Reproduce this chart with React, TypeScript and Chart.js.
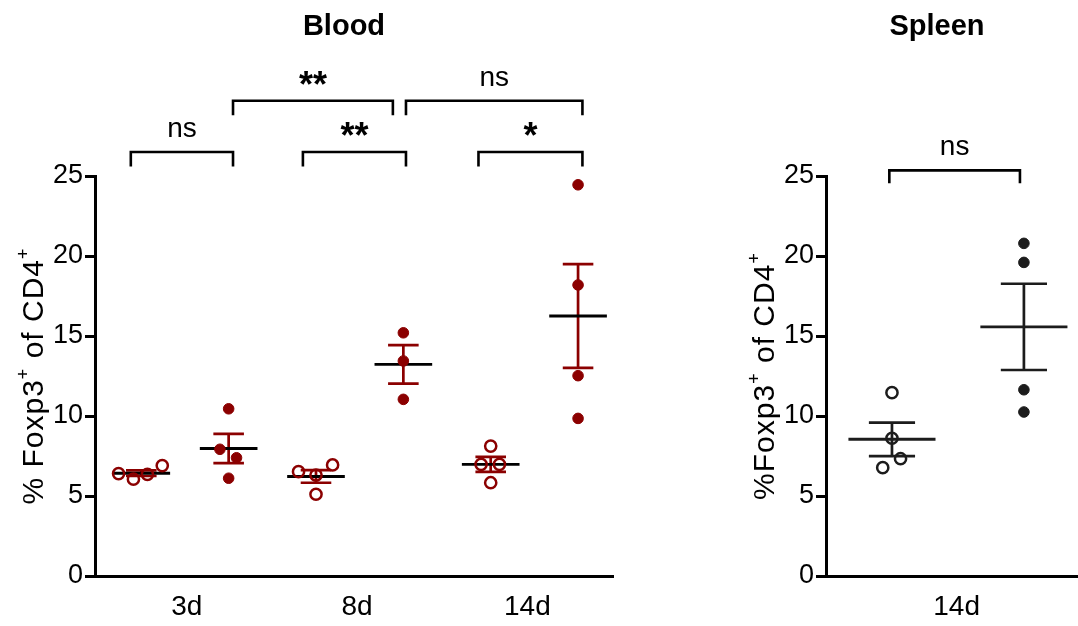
import React, { useEffect, useRef } from "react";
import { Chart, registerables } from "chart.js";

Chart.register(...registerables);

const FONT = '"Liberation Sans", Arial, Helvetica, sans-serif';
const RED = "#8B0000";
const DARK = "#1c1c1c";

// ---------- data ----------
const bloodTimepoints = ["3d", "8d", "14d"];
const spleenTimepoints = ["14d"];
const yTickValues = [0, 5, 10, 15, 20, 25];

// Blood, % Foxp3+ of CD4+ (open = first group of each pair, filled = second)
const blood3dOpen = [6.4, 6.05, 6.35, 6.9];
const blood3dFilled = [10.45, 7.92, 7.39, 6.11];
const blood8dOpen = [6.52, 6.31, 6.94, 5.11];
const blood8dFilled = [15.2, 13.44, 11.04];
const blood14dOpen = [8.12, 6.98, 6.98, 5.83];
const blood14dFilled = [24.45, 18.19, 12.52, 9.85];

// Spleen, % Foxp3+ of CD4+ at 14d
const spleen14dOpen = [11.46, 8.61, 7.33, 6.77];
const spleen14dFilled = [20.79, 19.6, 11.64, 10.25];

// horizontal scatter of overlapping points (fraction of group spacing)
const blood3dOpenSpread = [-0.26, -0.09, 0.07, 0.24];
const blood3dFilledSpread = [0, -0.1, 0.09, 0];
const blood8dOpenSpread = [-0.2, 0, 0.19, 0];
const blood8dFilledSpread = [0, 0, 0];
const blood14dOpenSpread = [0, -0.11, 0.1, 0];
const blood14dFilledSpread = [0, 0, 0, 0];
const spleen14dOpenSpread = [0, 0, 0.065, -0.07];
const spleen14dFilledSpread = [0, 0, 0, 0];

// significance labels
const bloodPairLabels = ["ns", "**", "*"];
const bloodAcrossLabels = ["**", "ns"];
const spleenPairLabels = ["ns"];

// ---------- helpers ----------
function mean(a: number[]) {
  return a.reduce((s, v) => s + v, 0) / a.length;
}
function sem(a: number[]) {
  const m = mean(a);
  const v = a.reduce((s, x) => s + (x - m) * (x - m), 0) / (a.length - 1);
  return Math.sqrt(v) / Math.sqrt(a.length);
}

type Group = {
  values: number[];
  spread: number[];
  filled: boolean;
  pointColor: string;
  barColor: string;
  meanColor: string;
};

type Bracket = { x1: number; x2: number; top: number; leg: number; label: string };

type PanelCfg = {
  title: string;
  yTitle: { parts: { t: string; sup: boolean }[]; cx: number };
  titleX: number;
  groups: Group[];
  brackets: Bracket[];
  xMin: number;
  xMax: number;
  xLabels: string[];
  xLabelPos: number[];
  yAxisWidth: number;
  padRight: number;
};

const bloodGroups: Group[] = [
  { values: blood3dOpen, spread: blood3dOpenSpread, filled: false, pointColor: RED, barColor: RED, meanColor: "#000" },
  { values: blood3dFilled, spread: blood3dFilledSpread, filled: true, pointColor: RED, barColor: RED, meanColor: "#000" },
  { values: blood8dOpen, spread: blood8dOpenSpread, filled: false, pointColor: RED, barColor: RED, meanColor: "#000" },
  { values: blood8dFilled, spread: blood8dFilledSpread, filled: true, pointColor: RED, barColor: RED, meanColor: "#000" },
  { values: blood14dOpen, spread: blood14dOpenSpread, filled: false, pointColor: RED, barColor: RED, meanColor: "#000" },
  { values: blood14dFilled, spread: blood14dFilledSpread, filled: true, pointColor: RED, barColor: RED, meanColor: "#000" },
];

const spleenGroups: Group[] = [
  { values: spleen14dOpen, spread: spleen14dOpenSpread, filled: false, pointColor: DARK, barColor: DARK, meanColor: DARK },
  { values: spleen14dFilled, spread: spleen14dFilledSpread, filled: true, pointColor: DARK, barColor: DARK, meanColor: DARK },
];

const bloodCfg: PanelCfg = {
  title: "Blood",
  titleX: 344,
  yTitle: {
    parts: [
      { t: "% Foxp3", sup: false },
      { t: "+", sup: true },
      { t: " of CD4", sup: false },
      { t: "+", sup: true },
    ],
    cx: 32,
  },
  groups: bloodGroups,
  brackets: [
    { x1: -0.12, x2: 1.05, top: 26.5, leg: 25.6, label: bloodPairLabels[0] },
    { x1: 1.85, x2: 3.03, top: 26.5, leg: 25.6, label: bloodPairLabels[1] },
    { x1: 3.86, x2: 5.05, top: 26.5, leg: 25.6, label: bloodPairLabels[2] },
    { x1: 1.05, x2: 2.88, top: 29.7, leg: 28.8, label: bloodAcrossLabels[0] },
    { x1: 3.03, x2: 5.05, top: 29.7, leg: 28.8, label: bloodAcrossLabels[1] },
  ],
  xMin: -0.53,
  xMax: 5.4,
  xLabels: bloodTimepoints,
  xLabelPos: [0.52, 2.47, 4.42],
  yAxisWidth: 95,
  padRight: 37,
};

const spleenCfg: PanelCfg = {
  title: "Spleen",
  titleX: 247,
  yTitle: {
    parts: [
      { t: "%Foxp3", sup: false },
      { t: "+", sup: true },
      { t: " of CD4", sup: false },
      { t: "+", sup: true },
    ],
    cx: 73,
  },
  groups: spleenGroups,
  brackets: [{ x1: -0.02, x2: 0.97, top: 25.35, leg: 24.55, label: spleenPairLabels[0] }],
  xMin: -0.5,
  xMax: 1.41,
  xLabels: spleenTimepoints,
  xLabelPos: [0.49],
  yAxisWidth: 136,
  padRight: 0,
};

function makeChart(canvas: HTMLCanvasElement, cfg: PanelCfg) {
  const datasets = cfg.groups.map((g, gi) => ({
    data: g.values.map((v, i) => ({ x: gi + g.spread[i], y: v })),
    pointRadius: g.filled ? 5.3 : 5.6,
    pointHoverRadius: g.filled ? 5.3 : 5.6,
    pointBorderWidth: g.filled ? 1 : 2.5,
    pointBackgroundColor: g.filled ? g.pointColor : "rgba(0,0,0,0)",
    pointBorderColor: g.pointColor,
    showLine: false,
  }));

  const statsPlugin = {
    id: "stats",
    beforeDatasetsDraw(chart: any) {
      const { ctx } = chart;
      const xs = chart.scales.x;
      const ys = chart.scales.y;
      ctx.save();
      cfg.groups.forEach((g, gi) => {
        const m = mean(g.values);
        const s = sem(g.values);
        const cx = xs.getPixelForValue(gi);
        const mw = xs.getPixelForValue(gi + 0.33) - cx;
        const cw = xs.getPixelForValue(gi + 0.175) - cx;
        const yHi = ys.getPixelForValue(m + s);
        const yLo = ys.getPixelForValue(m - s);
        const yM = ys.getPixelForValue(m);
        ctx.lineCap = "butt";
        ctx.strokeStyle = g.barColor;
        ctx.lineWidth = 2.7;
        ctx.beginPath();
        ctx.moveTo(cx, yHi);
        ctx.lineTo(cx, yLo);
        ctx.moveTo(cx - cw, yHi);
        ctx.lineTo(cx + cw, yHi);
        ctx.moveTo(cx - cw, yLo);
        ctx.lineTo(cx + cw, yLo);
        ctx.stroke();
        ctx.strokeStyle = g.meanColor;
        ctx.lineWidth = 2.9;
        ctx.beginPath();
        ctx.moveTo(cx - mw, yM);
        ctx.lineTo(cx + mw, yM);
        ctx.stroke();
      });
      ctx.restore();
    },
    afterDraw(chart: any) {
      const { ctx } = chart;
      const xs = chart.scales.x;
      const ys = chart.scales.y;
      ctx.save();
      // panel title
      ctx.fillStyle = "#000";
      ctx.font = `bold 29px ${FONT}`;
      ctx.textAlign = "center";
      ctx.textBaseline = "alphabetic";
      ctx.fillText(cfg.title, cfg.titleX, 35);

      // brackets
      ctx.strokeStyle = "#000";
      ctx.lineWidth = 2.6;
      ctx.lineCap = "butt";
      ctx.lineJoin = "miter";
      cfg.brackets.forEach((b) => {
        const x1 = xs.getPixelForValue(b.x1);
        const x2 = xs.getPixelForValue(b.x2);
        const yt = ys.getPixelForValue(b.top);
        const yl = ys.getPixelForValue(b.leg);
        ctx.beginPath();
        ctx.moveTo(x1, yl);
        ctx.lineTo(x1, yt);
        ctx.lineTo(x2, yt);
        ctx.lineTo(x2, yl);
        ctx.stroke();
        ctx.textAlign = "center";
        const isStar = b.label.indexOf("*") >= 0;
        if (isStar) {
          ctx.font = `bold 36px ${FONT}`;
          ctx.fillText(b.label, (x1 + x2) / 2, yt - 4);
        } else {
          ctx.font = `28px ${FONT}`;
          ctx.fillText(b.label, (x1 + x2) / 2, yt - 15);
        }
      });

      // y-axis title, rotated
      const ca = chart.chartArea;
      const cy = (ca.top + ca.bottom) / 2;
      ctx.translate(cfg.yTitle.cx, cy);
      ctx.rotate(-Math.PI / 2);
      const mainF = `30px ${FONT}`;
      const supF = `18px ${FONT}`;
      try {
        (ctx as any).letterSpacing = "1px";
      } catch (e) {}
      let total = 0;
      const widths = cfg.yTitle.parts.map((p) => {
        ctx.font = p.sup ? supF : mainF;
        const w = ctx.measureText(p.t).width;
        total += w;
        return w;
      });
      let x = -total / 2;
      ctx.textAlign = "left";
      cfg.yTitle.parts.forEach((p, i) => {
        ctx.font = p.sup ? supF : mainF;
        ctx.fillText(p.t, x, p.sup ? -3 : 11);
        x += widths[i];
      });
      ctx.restore();
    },
  };

  return new Chart(canvas, {
    type: "scatter",
    data: { datasets },
    plugins: [statsPlugin],
    options: {
      animation: false,
      responsive: false,
      maintainAspectRatio: false,
      events: [],
      layout: { autoPadding: false, padding: { left: 0, right: cfg.padRight, top: 176, bottom: 0 } },
      plugins: { legend: { display: false }, tooltip: { enabled: false }, title: { display: false } },
      scales: {
        x: {
          type: "linear",
          min: cfg.xMin,
          max: cfg.xMax,
          afterFit: (s: any) => {
            s.height = 50;
            s.paddingLeft = 0;
            s.paddingRight = 0;
          },
          afterBuildTicks: (s: any) => {
            s.ticks = cfg.xLabelPos.map((v) => ({ value: v }));
          },
          grid: { display: false, drawTicks: false },
          border: { display: true, color: "#000", width: 3 },
          ticks: {
            color: "#000",
            font: { family: FONT, size: 28 },
            padding: 14,
            maxRotation: 0,
            autoSkip: false,
            callback: (_v: any, i: number) => cfg.xLabels[i],
          },
        },
        y: {
          type: "linear",
          min: 0,
          max: 25,
          afterFit: (s: any) => {
            s.width = cfg.yAxisWidth;
          },
          afterBuildTicks: (s: any) => {
            s.ticks = yTickValues.map((v) => ({ value: v }));
          },
          grid: { display: true, drawOnChartArea: false, drawTicks: true, tickLength: 10, color: "#000", lineWidth: 3 },
          border: { display: true, color: "#000", width: 3 },
          ticks: {
            color: "#000",
            font: { family: FONT, size: 27 },
            padding: 2,
            callback: (v: any) => String(v),
          },
        },
      },
    },
  });
}

function Panel({ cfg, left, width }: { cfg: PanelCfg; left: number; width: number }) {
  const ref = useRef<HTMLCanvasElement | null>(null);
  useEffect(() => {
    if (!ref.current) return;
    const c = makeChart(ref.current, cfg);
    return () => c.destroy();
  }, [cfg]);
  return (
    <canvas
      ref={ref}
      width={width}
      height={626}
      style={{ position: "absolute", left, top: 0, width, height: 626 }}
    />
  );
}

export default function App() {
  return (
    <div style={{ position: "absolute", left: 0, top: 0, width: 1078, height: 626, background: "#fff", overflow: "hidden" }}>
      <Panel cfg={bloodCfg} left={0} width={650} />
      <Panel cfg={spleenCfg} left={690} width={388} />
    </div>
  );
}
